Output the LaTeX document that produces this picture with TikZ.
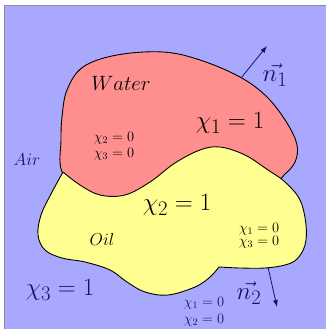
\documentclass[tikz,border=0pt]{standalone}
\usepackage{amsmath}
\usetikzlibrary{arrows.meta}
\definecolor{bgblue}{RGB}{168,168,255}
\definecolor{water}{RGB}{255,143,143}
\definecolor{oil}{RGB}{255,255,145}
\definecolor{navy}{RGB}{20,20,100}
\definecolor{frame}{RGB}{140,140,140}
\tikzset{
  region/.style={draw=black, line width=0.9pt, line join=round},
  big/.style={font=\fontsize{27.5}{30}\selectfont, inner sep=0pt},
  label/.style={font=\fontsize{20}{24}\selectfont, inner sep=0pt},
  small/.style={font=\fontsize{14.5}{16}\selectfont, inner sep=0pt},
  normal/.style={-{Latex[length=7pt,width=5pt]}, draw=navy, line width=0.8pt},
}
\begin{document}
\begin{tikzpicture}[x=1pt,y=-1pt]
\useasboundingbox (0,0) rectangle (326,329);
\fill[bgblue] (4.5,5.5) rectangle (340,340);
\draw[frame, line width=1.3pt] (4.5,340) -- (4.5,5.5) -- (340,5.5);
% water
\draw[region, fill=water] plot[smooth cycle, tension=0.6] coordinates {
 (62,172) (61,140) (62,117) (67,90) (83,67) (117,55) (163,52) (200,60)
 (240,77) (267,97) (287,123) (297,145) (295,162) (284,175) (265,190)
 (200,200) (130,205) (85,200)};
% oil
\draw[region, fill=oil] plot[smooth, tension=0.6] coordinates {
 (63,172) (80,185) (100,195) (125,195) (150,182) (175,163) (200,150)
 (220,147) (245,155) (268,170) (285,182) (300,200) (306,225) (305,245)
 (297,259) (285,265) (265,268) (240,268) (219,267)}
 -- plot[smooth, tension=0.6] coordinates {
 (219,267) (210,277) (195,287) (168,295) (145,292) (127,282) (110,270)
 (85,262) (62,258) (45,250) (38,235) (41,215) (51,194) (63,172)} -- cycle;
% normals
\coordinate (n1s) at (241,78);
\coordinate (n1e) at (267,46);
\coordinate (n2s) at (268,267);
\coordinate (n2e) at (277,307);
\draw[normal] (n1s) -- (n1e);
\draw[normal] (n2s) -- (n2e);
\node[big, text=navy] (n1) at (275,75) {$\vec{n_1}$};
\node[big, text=navy] (n2) at (249,293) {$\vec{n_2}$};
% labels
\node[label] (water) at (121,83) {$Water$};
\node[big] (chi1) at (230,123) {$\chi_1 = 1$};
\node[small] (w2) at (114,138) {$\chi_2 = 0$};
\node[small] (w3) at (114,154) {$\chi_3 = 0$};
\node[label, font=\fontsize{18}{22}\selectfont, text=navy] (air) at (27,160) {$Air$};
\node[big] (chi2) at (177,205) {$\chi_2 = 1$};
\node[label, font=\fontsize{19}{22}\selectfont] (oil) at (102,239) {$Oil$};
\node[small] (o1) at (259,229) {$\chi_1 = 0$};
\node[small] (o3) at (259,242) {$\chi_3 = 0$};
\node[big, text=navy] (chi3) at (60,290) {$\chi_3 = 1$};
\node[small, text=navy] (a1) at (204,303) {$\chi_1 = 0$};
\node[small, text=navy] (a2) at (204,320) {$\chi_2 = 0$};
\end{tikzpicture}
\end{document}
